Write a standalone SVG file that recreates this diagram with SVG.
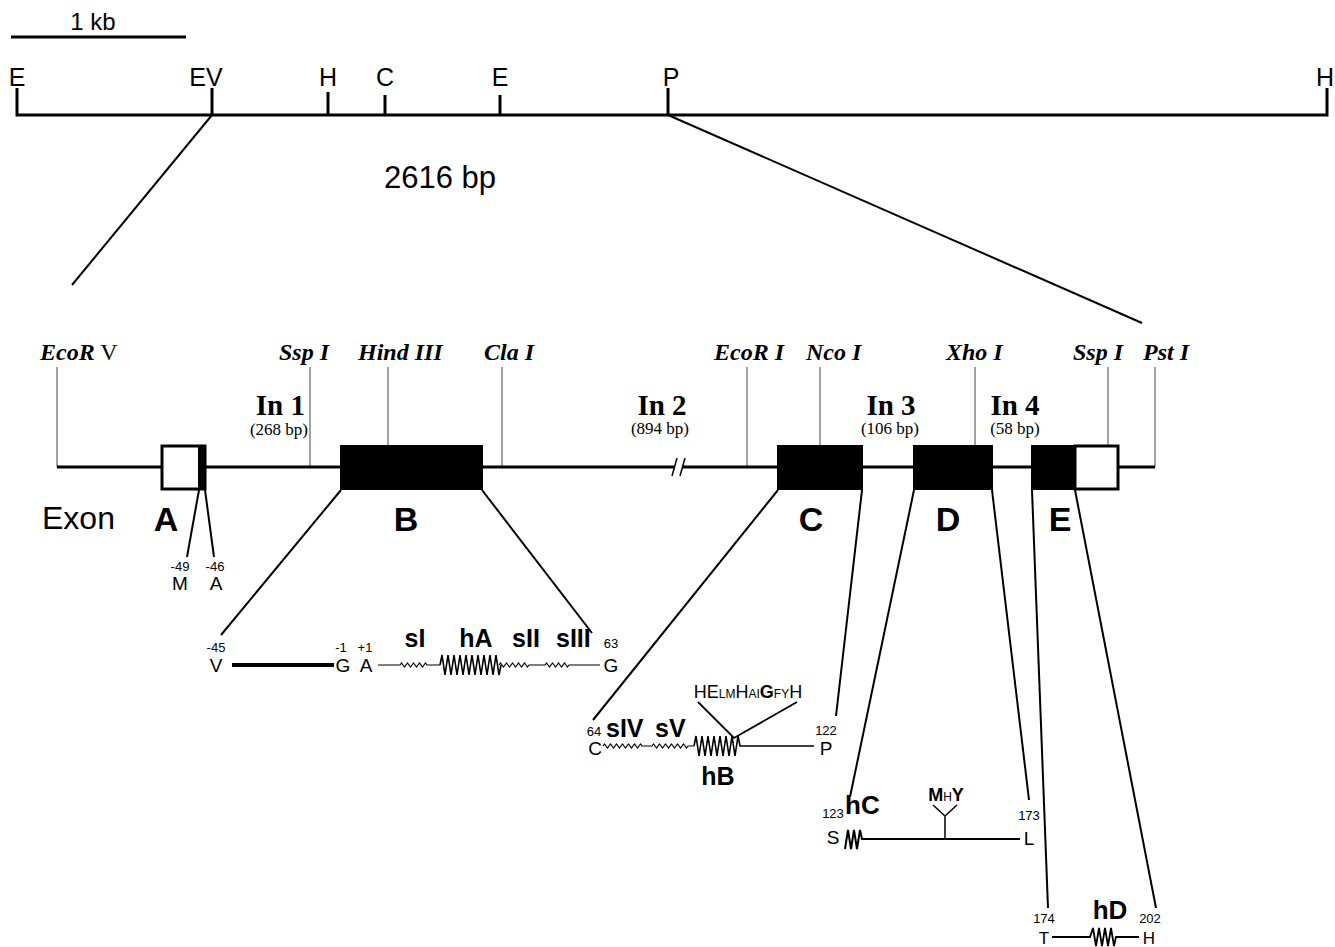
<svg xmlns="http://www.w3.org/2000/svg" width="1335" height="947" viewBox="0 0 1335 947">
<style>
.map{font-family:"Liberation Sans",Arial,sans-serif;font-size:25px;fill:#000}
.enz{font-family:"Liberation Serif","Times New Roman",serif;font-size:24px;font-weight:bold;font-style:italic;fill:#000}
.intr{font-family:"Liberation Serif","Times New Roman",serif;font-size:29px;font-weight:bold;fill:#000}
.bp{font-family:"Liberation Serif","Times New Roman",serif;font-size:17px;fill:#000}
.exl{font-family:"Liberation Sans",Arial,sans-serif;font-size:34px;font-weight:bold;fill:#000}
.num{font-family:"Liberation Sans",Arial,sans-serif;font-size:13px;fill:#000}
.aa{font-family:"Liberation Sans",Arial,sans-serif;font-size:19px;fill:#000}
.lab{font-family:"Liberation Sans",Arial,sans-serif;font-size:25px;font-weight:bold;fill:#000}
.thick{stroke:#000;stroke-width:3;fill:none}
.ln{stroke:#000;stroke-width:2;fill:none}
.thin{stroke:#444;stroke-width:1;fill:none}
.helix{stroke:#000;stroke-width:1.6;fill:none}
.sq{stroke:#000;stroke-width:1.2;fill:none}
.t{text-anchor:middle}
</style>

<g id="map">
  <line class="thick" x1="11" y1="37" x2="186" y2="37"/>
  <text class="map t" x="93" y="30" style="font-size:24px">1 kb</text>
  <path class="thick" d="M17 88 V115 H1327 V88"/>
  <line class="thick" x1="212" y1="88" x2="212" y2="115"/>
  <line class="thick" x1="328" y1="92" x2="328" y2="115"/>
  <line class="thick" x1="385" y1="95" x2="385" y2="115"/>
  <line class="thick" x1="500" y1="95" x2="500" y2="115"/>
  <line class="thick" x1="668" y1="88" x2="668" y2="115"/>
  <text class="map t" x="17" y="86">E</text>
  <text class="map t" x="206" y="86">EV</text>
  <text class="map t" x="328" y="86">H</text>
  <text class="map t" x="385" y="86">C</text>
  <text class="map t" x="500" y="86">E</text>
  <text class="map t" x="671" y="86">P</text>
  <text class="map t" x="1325" y="86">H</text>
  <text class="map t" x="440" y="188" style="font-size:31px">2616 bp</text>
</g>

<g id="connectors">
  <line class="ln" x1="212" y1="115" x2="72" y2="285"/>
  <line class="ln" x1="668" y1="115" x2="1142" y2="323"/>
  <line class="ln" x1="199" y1="490" x2="187" y2="557"/>
  <line class="ln" x1="205" y1="490" x2="214" y2="557"/>
  <line class="ln" x1="341" y1="490" x2="221" y2="635"/>
  <line class="ln" x1="482" y1="490" x2="592" y2="633"/>
  <line class="ln" x1="778" y1="490" x2="593" y2="720"/>
  <line class="ln" x1="862" y1="490" x2="836" y2="716"/>
  <line class="ln" x1="914" y1="490" x2="850" y2="797"/>
  <line class="ln" x1="992" y1="490" x2="1029" y2="800"/>
  <line class="ln" x1="1032" y1="490" x2="1048" y2="908"/>
  <line class="ln" x1="1075" y1="490" x2="1156" y2="908"/>
</g>

<g id="enzymes">
  <text class="enz" x="40" y="360">EcoR<tspan style="font-weight:normal;font-style:normal"> V</tspan></text>
  <text class="enz" x="279" y="360">Ssp I</text>
  <text class="enz" x="358" y="360">Hind III</text>
  <text class="enz" x="484" y="360">Cla I</text>
  <text class="enz" x="714" y="360">EcoR I</text>
  <text class="enz" x="806" y="360">Nco I</text>
  <text class="enz" x="946" y="360">Xho I</text>
  <text class="enz" x="1073" y="360">Ssp I</text>
  <text class="enz" x="1143" y="360">Pst I</text>
  <line class="thin" x1="57" y1="367" x2="57" y2="467"/>
  <line class="thin" x1="310" y1="367" x2="310" y2="467"/>
  <line class="thin" x1="388" y1="367" x2="388" y2="446"/>
  <line class="thin" x1="502" y1="367" x2="502" y2="467"/>
  <line class="thin" x1="747" y1="367" x2="747" y2="467"/>
  <line class="thin" x1="820" y1="367" x2="820" y2="446"/>
  <line class="thin" x1="975" y1="367" x2="975" y2="446"/>
  <line class="thin" x1="1108" y1="367" x2="1108" y2="446"/>
  <line class="thin" x1="1155" y1="367" x2="1155" y2="467"/>
</g>

<g id="gene">
  <line class="thick" x1="57" y1="467" x2="1155" y2="467"/>
  <rect x="675" y="460" width="8" height="14" fill="#fff"/>
  <line class="ln" x1="672" y1="476" x2="677" y2="458" style="stroke-width:1.5"/>
  <line class="ln" x1="680" y1="476" x2="685" y2="458" style="stroke-width:1.5"/>
  <text class="map" x="42" y="529" style="font-size:32px">Exon</text>
</g>

<g id="exonA">
  <rect x="162" y="446" width="43" height="43" fill="#fff" stroke="#000" stroke-width="3"/>
  <rect x="198" y="446" width="7" height="43" fill="#000"/>
  <text class="exl t" x="166" y="531">A</text>
  <text class="num t" x="180" y="571">-49</text>
  <text class="aa t" x="180" y="590">M</text>
  <text class="num t" x="215" y="571">-46</text>
  <text class="aa t" x="216" y="590">A</text>
</g>
<g id="exonB">
  <rect x="341" y="446" width="141" height="43" fill="#000" stroke="#000" stroke-width="2"/>
  <text class="exl t" x="406" y="531">B</text>
</g>
<g id="exonC">
  <rect x="778" y="446" width="84" height="43" fill="#000" stroke="#000" stroke-width="2"/>
  <text class="exl t" x="811" y="531">C</text>
</g>
<g id="exonD">
  <rect x="914" y="446" width="78" height="43" fill="#000" stroke="#000" stroke-width="2"/>
  <text class="exl t" x="948" y="531">D</text>
</g>
<g id="exonE">
  <rect x="1032" y="446" width="43" height="43" fill="#000" stroke="#000" stroke-width="2"/>
  <rect x="1075" y="446" width="43" height="43" fill="#fff" stroke="#000" stroke-width="3"/>
  <text class="exl t" x="1060" y="531">E</text>
</g>

<g id="introns">
  <text class="intr" x="305" y="415" text-anchor="end">In 1</text>
  <text class="bp" x="308" y="435" text-anchor="end">(268 bp)</text>
  <text class="intr t" x="662" y="415">In 2</text>
  <text class="bp t" x="660" y="434">(894 bp)</text>
  <text class="intr t" x="891" y="415">In 3</text>
  <text class="bp t" x="890" y="434">(106 bp)</text>
  <text class="intr t" x="1015" y="415">In 4</text>
  <text class="bp t" x="1015" y="434">(58 bp)</text>
</g>

<g id="rowB">
  <text class="num t" x="216" y="652">-45</text>
  <text class="aa t" x="216" y="672">V</text>
  <line x1="232" y1="665" x2="334" y2="665" stroke="#000" stroke-width="4"/>
  <text class="num t" x="341" y="652">-1</text>
  <text class="aa t" x="343" y="672">G</text>
  <text class="num t" x="365" y="652">+1</text>
  <text class="aa t" x="366" y="672">A</text>
  <path class="sq" d="M378 665 H400 l1.5 -2 l3 4 l3 -4 l3 4 l3 -4 l3 4 l3 -4 l3 4 l3 -4 l1.5 2 H440"/>
  <path class="helix" d="M440 665 l2 -10 l3 20 l3 -20 l3 20 l3 -20 l3 20 l3 -20 l3 20 l3 -20 l3 20 l3 -20 l3 20 l3 -20 l3 20 l3 -20 l3 20 l3 -20 l3 20 l3 -20 l3 20 l2 -10"/>
  <path class="sq" d="M499 665 l1.5 -2 l3 4 l3 -4 l3 4 l3 -4 l3 4 l3 -4 l3 4 l3 -4 l3 4 l1.5 -2 H545 l1.5 -2 l3 4 l3 -4 l3 4 l3 -4 l3 4 l3 -4 l3 4 l1.5 -2 H600"/>
  <text class="lab t" x="415" y="647">sI</text>
  <text class="lab t" x="476" y="647">hA</text>
  <text class="lab t" x="526" y="647">sII</text>
  <text class="lab" x="556" y="647">sIII</text>
  <text class="num t" x="611" y="648">63</text>
  <text class="aa t" x="611" y="672">G</text>
</g>

<g id="rowC">
  <text class="num t" x="594" y="736">64</text>
  <text class="aa t" x="595" y="755">C</text>
  <text class="lab" x="606" y="737">sIV</text>
  <text class="lab" x="655" y="737">sV</text>
  <path class="sq" d="M603 746 l1.5 -2 l3 4 l3 -4 l3 4 l3 -4 l3 4 l3 -4 l3 4 l3 -4 l3 4 l3 -4 l3 4 l3 -4 l1.5 2 H652 l1.5 -2 l3 4 l3 -4 l3 4 l3 -4 l3 4 l3 -4 l3 4 l3 -4 l3 4 l3 -4 l3 4 l1.5 -2 H694"/>
  <path class="helix" d="M694 746 l2 -10 l3 20 l3 -20 l3 20 l3 -20 l3 20 l3 -20 l3 20 l3 -20 l3 20 l3 -20 l3 20 l3 -20 l3 20 l3 -20 l2 10 H814"/>
  <path class="ln" d="M698 702 L734 738 L797 702" style="stroke-width:1.8"/>
  <text class="aa t" x="748" y="698" style="font-size:18px">HE<tspan style="font-size:12px">LM</tspan>H<tspan style="font-size:12px">AI</tspan><tspan style="font-weight:bold">G</tspan><tspan style="font-size:12px">FY</tspan>H</text>
  <text class="lab t" x="718" y="785">hB</text>
  <text class="num t" x="826" y="735">122</text>
  <text class="aa t" x="826" y="755">P</text>
</g>

<g id="rowD">
  <text class="num t" x="833" y="818">123</text>
  <text class="aa t" x="833" y="844">S</text>
  <text class="lab" x="845" y="814" style="font-size:26px">hC</text>
  <path class="helix" d="M845 849 l3 -19 l3 19 l3 -19 l3 19 l3 -19 l2 9 H1020" style="stroke-width:2"/>
  <path class="ln" d="M933 805 L945 816 L957 805 M945 816 V839" style="stroke-width:1.5"/>
  <text class="aa t" x="946" y="801" style="font-size:18px;font-weight:bold">M<tspan style="font-size:12px;font-weight:normal">H</tspan>Y</text>
  <text class="num t" x="1029" y="820">173</text>
  <text class="aa t" x="1029" y="845">L</text>
</g>

<g id="rowE">
  <text class="num t" x="1044" y="923">174</text>
  <text class="aa t" x="1044" y="944" style="font-size:17px">T</text>
  <text class="lab t" x="1110" y="919" style="font-size:26px">hD</text>
  <path class="helix" d="M1052 937 H1090 l3 -9 l3 18 l3 -18 l3 18 l3 -18 l3 18 l3 -18 l3 18 l2 -9 H1139" style="stroke-width:1.8"/>
  <text class="num t" x="1150" y="923">202</text>
  <text class="aa t" x="1149" y="944" style="font-size:17px">H</text>
</g>
</svg>
